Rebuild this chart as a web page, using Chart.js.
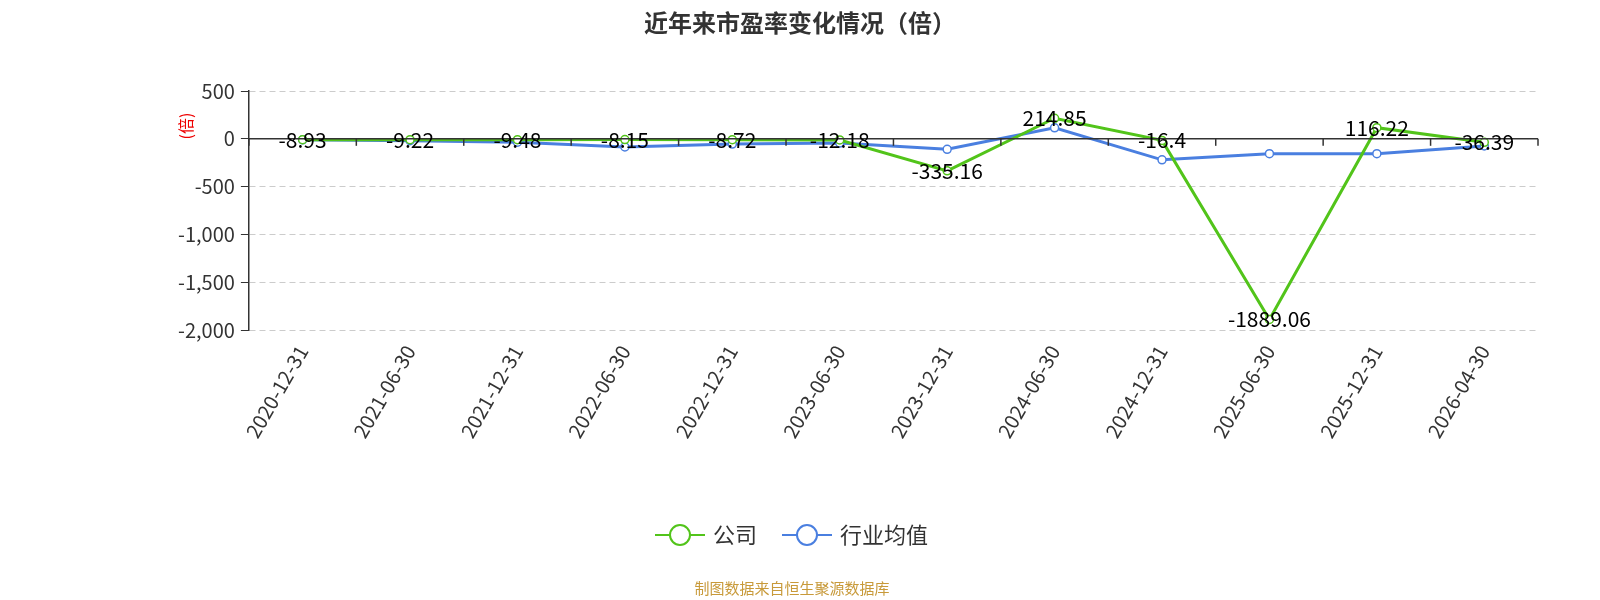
<!DOCTYPE html>
<html><head><meta charset="utf-8">
<script src="https://cdn.jsdelivr.net/npm/chart.js@4"></script>
<style>body{margin:0;background:#fff}#wrap{width:1600px;height:600px}</style>
</head><body><div id="wrap"><canvas id="c" width="1600" height="600"></canvas></div>
<script>
const categories = ["2020-12-31","2021-06-30","2021-12-31","2022-06-30","2022-12-31","2023-06-30","2023-12-31","2024-06-30","2024-12-31","2025-06-30","2025-12-31","2026-04-30"];
const company = [-8.93,-9.22,-9.48,-8.15,-8.72,-12.18,-335.16,214.85,-16.4,-1889.06,116.22,-36.39];
const industry = [-10,-20,-35,-85,-55,-45,-110,115,-220,-155,-155,-75];
const yTicks = [500,0,-500,-1000,-1500,-2000];
const FONT = '"Noto Sans CJK SC", "Noto Sans", sans-serif';

const extras = {
  id: 'extras',
  afterDatasetsDraw(chart) {
    const {ctx, chartArea, scales:{x,y}} = chart;
    ctx.save();
    // zero line with tick marks
    const y0 = y.getPixelForValue(0);
    ctx.strokeStyle = '#333'; ctx.lineWidth = 1.5;
    ctx.beginPath(); ctx.moveTo(chartArea.left, y0); ctx.lineTo(chartArea.right, y0); ctx.stroke();
    const step = (chartArea.right - chartArea.left) / categories.length;
    for (let i = 0; i <= categories.length; i++) {
      const px = chartArea.left + i * step;
      ctx.beginPath(); ctx.moveTo(px, y0); ctx.lineTo(px, y0 + 7); ctx.stroke();
    }
    // data labels
    ctx.fillStyle = '#000'; ctx.font = '21px ' + FONT;
    ctx.textAlign = 'center'; ctx.textBaseline = 'middle';
    chart.getDatasetMeta(0).data.forEach((pt, i) => {
      ctx.fillText(String(company[i]), pt.x, pt.y);
    });
    // title
    ctx.fillStyle = '#333'; ctx.font = 'bold 24px ' + FONT;
    ctx.fillText('近年来市盈率变化情况（倍）', 800, 23);
    // y title
    ctx.save(); ctx.translate(186, 126); ctx.rotate(-Math.PI/2);
    ctx.fillStyle = '#e00'; ctx.font = '16px ' + FONT; ctx.fillText('(倍)', 0, 0); ctx.restore();
    // legend
    const items = [['公司','#52c41a',655],['行业均值','#4a7fe0',782]];
    ctx.font = '22px ' + FONT; ctx.textAlign = 'left';
    items.forEach(([t,c,lx]) => {
      ctx.strokeStyle = c; ctx.lineWidth = 2;
      ctx.beginPath(); ctx.moveTo(lx, 535); ctx.lineTo(lx + 50, 535); ctx.stroke();
      ctx.beginPath(); ctx.arc(lx + 25, 535, 10, 0, Math.PI*2); ctx.fillStyle='#fff'; ctx.fill(); ctx.stroke();
      ctx.fillStyle = '#333'; ctx.fillText(t, lx + 58, 535);
    });
    // footer
    ctx.textAlign = 'center'; ctx.fillStyle = '#c89a3a'; ctx.font = '15px ' + FONT;
    ctx.fillText('制图数据来自恒生聚源数据库', 792, 588);
    ctx.restore();
  }
};

new Chart(document.getElementById('c'), {
  type: 'line',
  data: {
    labels: categories,
    datasets: [
      { label: '公司', data: company, borderColor: '#52c41a', backgroundColor: '#fff', borderWidth: 3, pointRadius: 4, pointBorderWidth: 1.5, tension: 0 },
      { label: '行业均值', data: industry, borderColor: '#4a7fe0', backgroundColor: '#fff', borderWidth: 3, pointRadius: 4, pointBorderWidth: 1.5, tension: 0 }
    ]
  },
  options: {
    responsive: false, animation: false,
    layout: { padding: { left: 172, right: 62, top: 91, bottom: 155 } },
    plugins: { legend: { display: false }, tooltip: { enabled: false } },
    scales: {
      x: {
        offset: true,
        grid: { display: false },
        border: { display: false },
        ticks: { color: '#333', font: { size: 20, family: FONT }, maxRotation: 60, minRotation: 60 }
      },
      y: {
        min: -2000, max: 500,
        afterBuildTicks: s => { s.ticks = yTicks.map(v => ({ value: v })); },
        grid: { color: c => c.tick && c.tick.value === 0 ? 'rgba(0,0,0,0)' : '#ccc', drawTicks: true, tickLength: 8, tickColor: '#333' },
        border: { display: true, color: '#333', width: 1.5, dash: [6, 4] },
        ticks: { color: '#333', font: { size: 20, family: FONT }, padding: 6, callback: v => v.toLocaleString('en-US') }
      }
    }
  },
  plugins: [extras]
});
</script></body></html>
